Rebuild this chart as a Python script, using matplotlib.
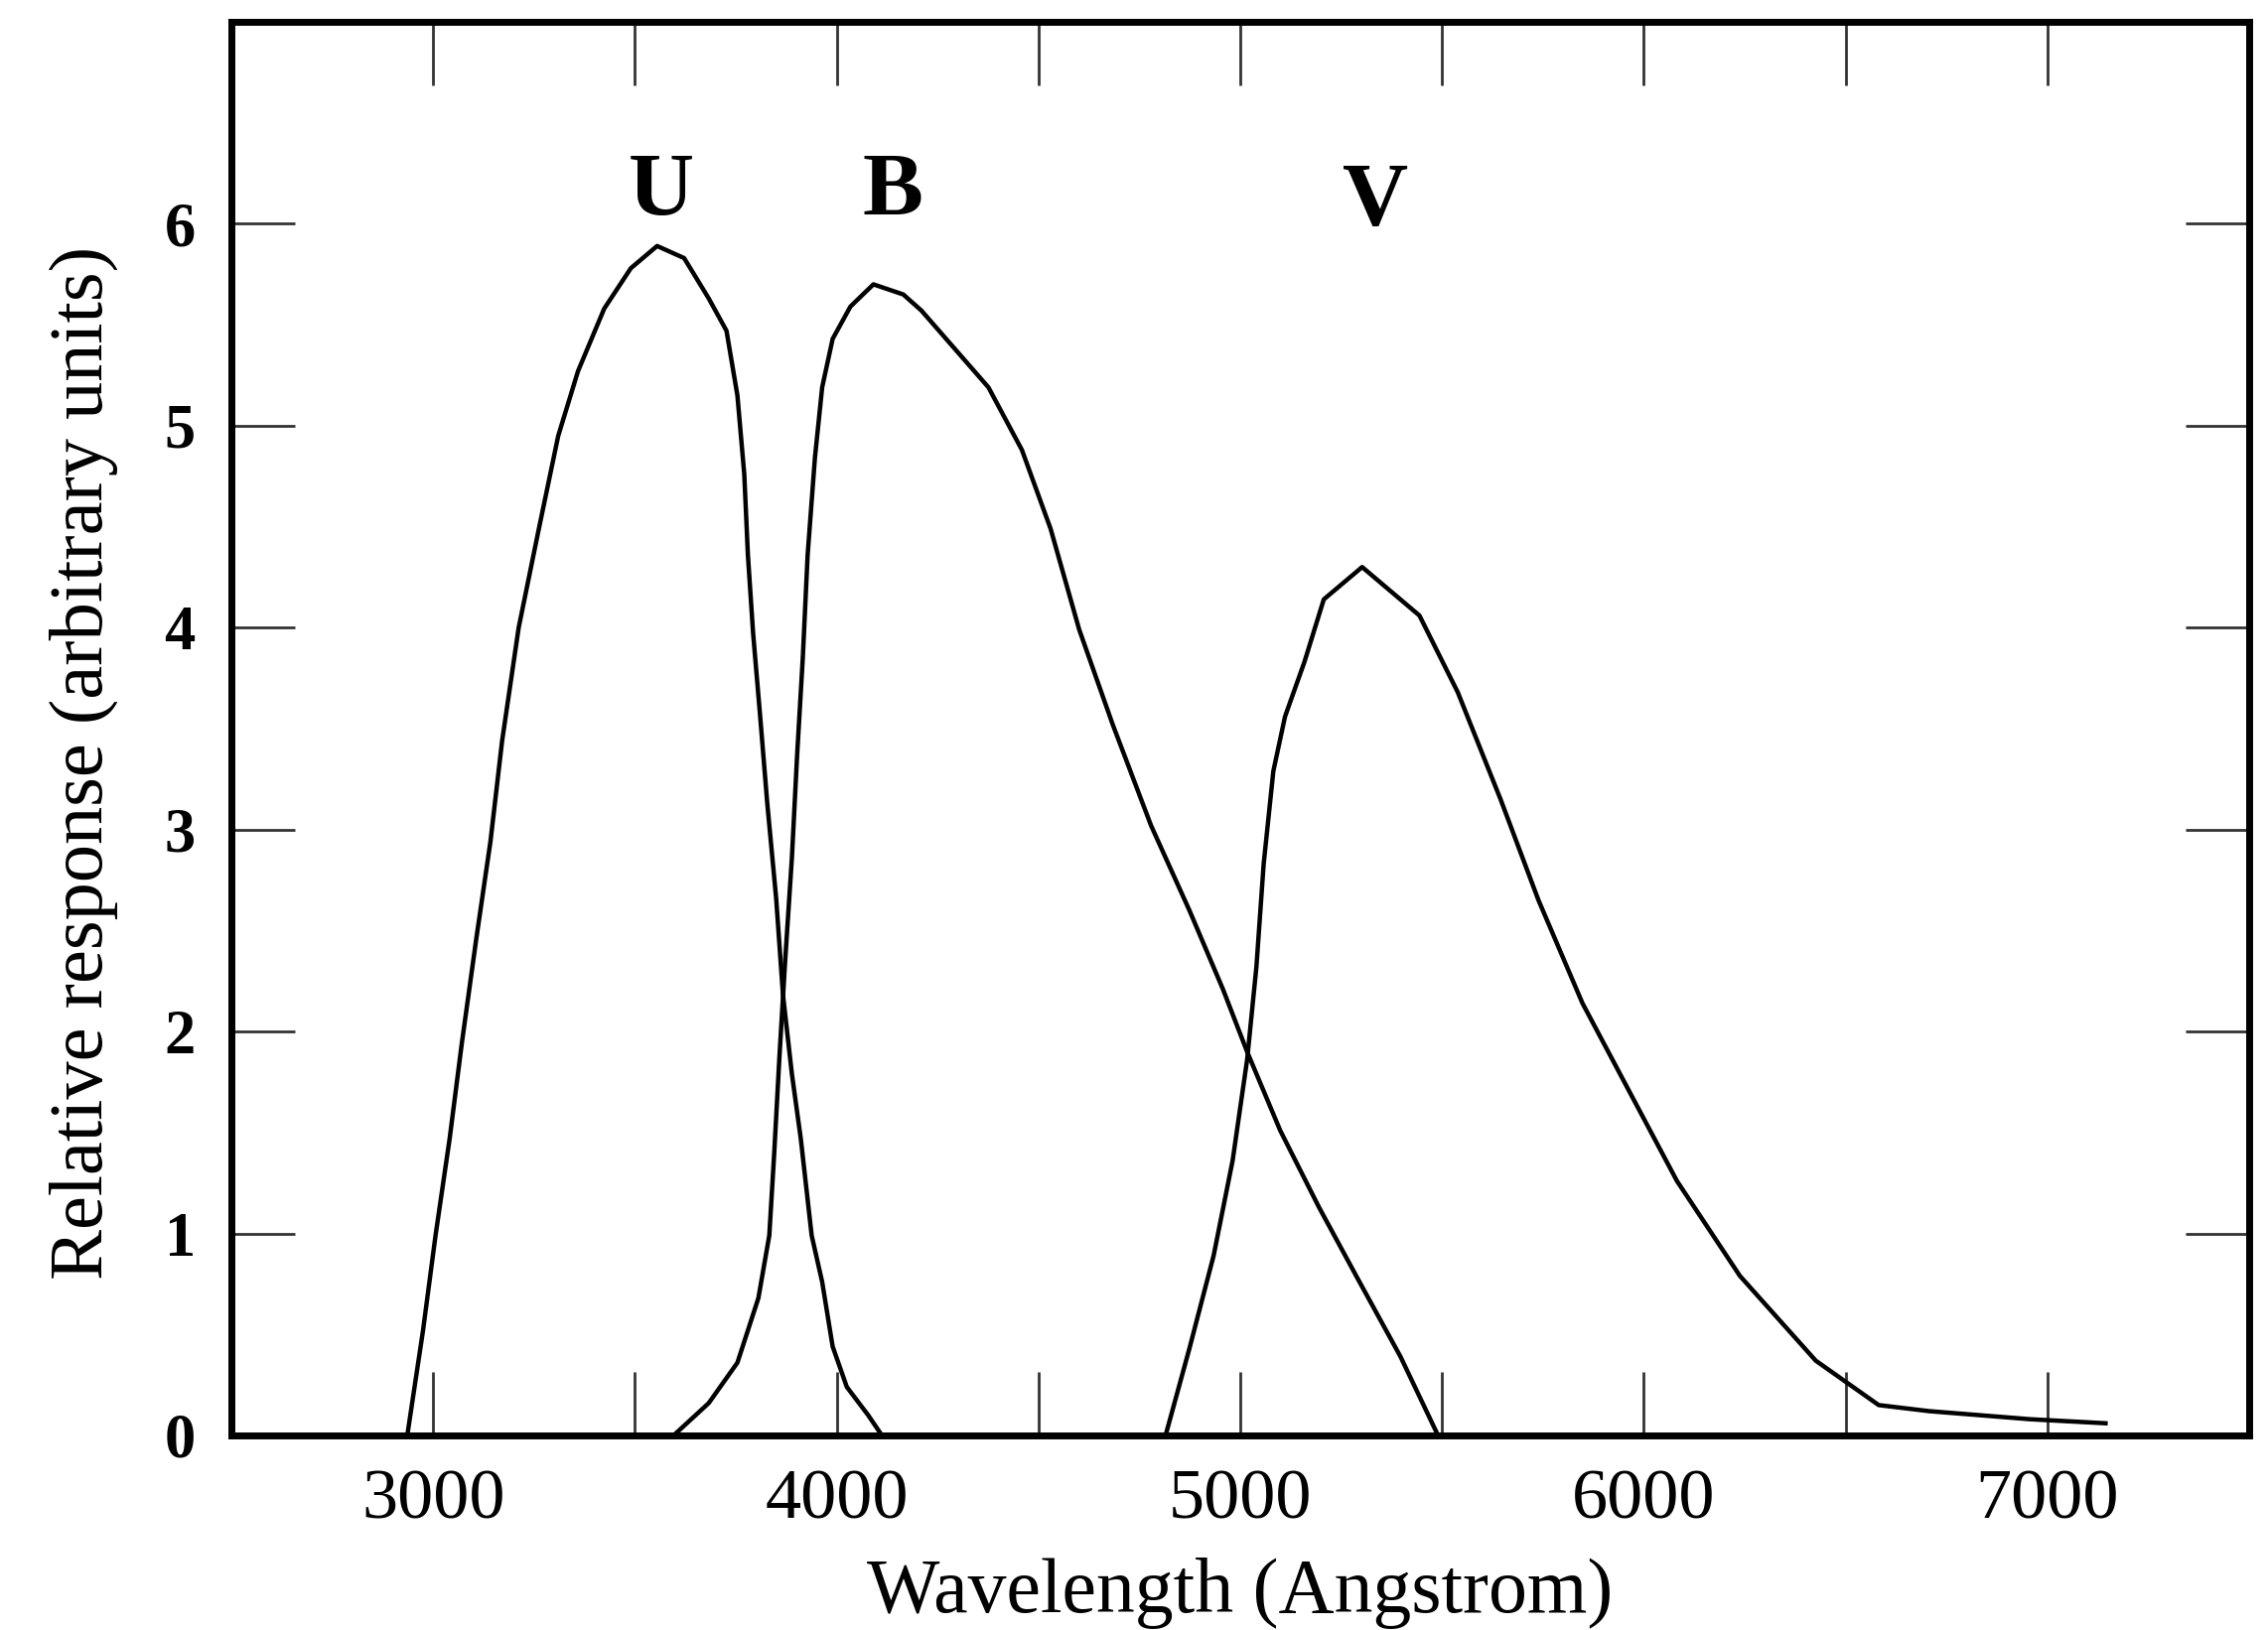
import numpy as np
import matplotlib
matplotlib.use("Agg")
import matplotlib.pyplot as plt

# Curvas de respuesta de los filtros U, B, V
u_wl = [2936, 2975, 3006, 3041, 3071, 3107, 3142, 3171, 3212, 3261, 3310, 3359,
        3424, 3490, 3555, 3622, 3683, 3727, 3754, 3771, 3780, 3793, 3810,
        3828, 3850, 3867, 3889, 3911, 3938, 3964, 3990, 4025, 4078, 4112]
u_resp = [0.0, 0.52, 0.99, 1.47, 1.94, 2.46, 2.94, 3.44, 4.00, 4.48, 4.95, 5.27,
          5.58, 5.78, 5.89, 5.83, 5.63, 5.47, 5.15, 4.76, 4.36, 3.97, 3.57,
          3.13, 2.66, 2.18, 1.79, 1.47, 0.99, 0.76, 0.44, 0.24, 0.10, 0.0]

b_wl = [3596, 3683, 3754, 3806, 3833, 3845, 3858, 3872, 3889, 3902, 3916, 3928,
        3946, 3964, 3990, 4034, 4091, 4165, 4210, 4293, 4376, 4459, 4530, 4601,
        4684, 4779, 4874, 4957, 5017, 5099, 5195, 5290, 5397, 5490]
b_resp = [0.0, 0.16, 0.36, 0.68, 0.99, 1.39, 1.87, 2.34, 2.86, 3.37, 3.85, 4.36,
          4.84, 5.19, 5.43, 5.59, 5.70, 5.65, 5.57, 5.38, 5.19, 4.88, 4.49, 3.99,
          3.52, 3.02, 2.60, 2.21, 1.90, 1.51, 1.13, 0.78, 0.39, 0.0]

v_wl = [4815, 4874, 4934, 4981, 5017, 5040, 5058, 5082, 5111, 5159, 5207, 5302,
        5444, 5539, 5645, 5739, 5848, 5957, 6082, 6238, 6426, 6582, 6707, 6957, 7144]
v_resp = [0.0, 0.43, 0.89, 1.36, 1.86, 2.32, 2.83, 3.29, 3.56, 3.83, 4.14, 4.30,
          4.06, 3.68, 3.15, 2.65, 2.14, 1.73, 1.26, 0.79, 0.37, 0.15, 0.12, 0.08, 0.06]

# Etiquetas de cada filtro
band_names = ["U", "B", "V"]
band_x = [3565, 4140, 5335]
band_y = [6.15, 6.15, 6.1]

serif = "Liberation Serif"

fig = plt.figure(figsize=(22.84, 16.42), dpi=100)
ax = fig.add_axes([0.102, 0.1194, 0.8897, 0.8672])

for wl, resp in [(u_wl, u_resp), (b_wl, b_resp), (v_wl, v_resp)]:
    ax.plot(wl, resp, color="black", linewidth=3.2)

for name, x, y in zip(band_names, band_x, band_y):
    ax.text(x, y, name, ha="center", va="center", fontsize=66,
            fontweight="bold", family=serif)

ax.set_xlim(2500, 7500)
ax.set_ylim(0, 7)
ax.set_xticks(np.arange(3000, 7001, 1000))
ax.set_xticks(np.arange(2500, 7501, 500), minor=True)
ax.set_yticks(range(0, 7))

ax.tick_params(which="both", direction="in", top=True, right=True,
               length=46, width=2, color="#333333")
ax.tick_params(axis="x", pad=24)
ax.tick_params(axis="y", pad=26)

for lab in ax.get_xticklabels():
    lab.set_family(serif)
    lab.set_fontsize(52)
for lab in ax.get_yticklabels():
    lab.set_family(serif)
    lab.set_fontsize(45)
    lab.set_fontweight("bold")

for sp in ax.spines.values():
    sp.set_linewidth(5)

ax.set_xlabel("Wavelength (Angstrom)", family=serif, fontsize=56, labelpad=18)
ax.set_ylabel("Relative response (arbitrary units)", family=serif, fontsize=55)
ax.yaxis.set_label_coords(-0.056, 0.476)

fig.savefig("out.png", dpi=100)
